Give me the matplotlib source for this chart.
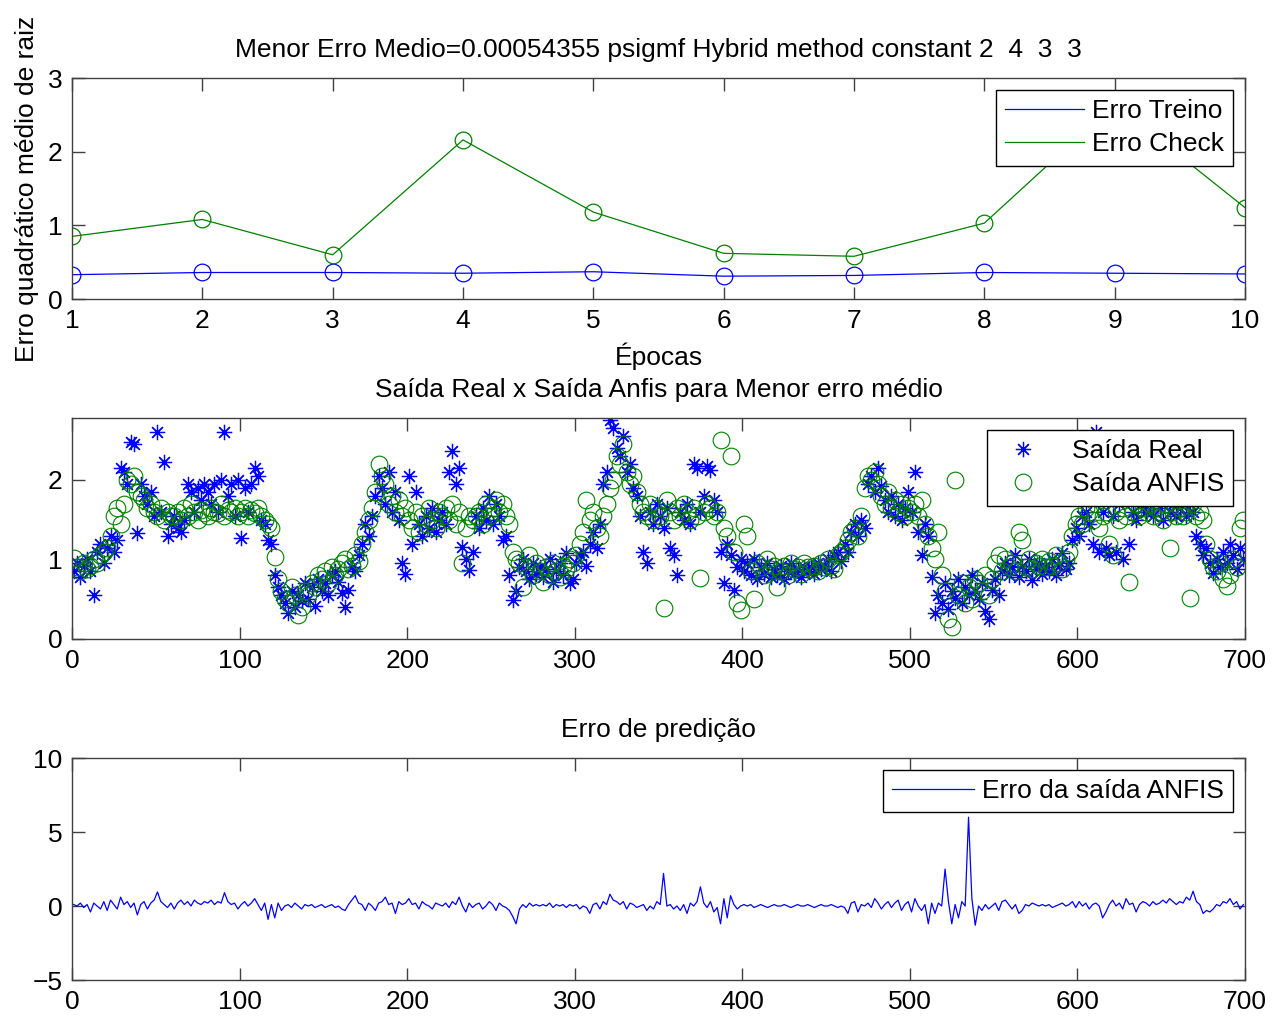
import numpy as np
import matplotlib.pyplot as plt

plt.rcParams['font.family'] = ['Liberation Sans', 'DejaVu Sans']
plt.rcParams['font.size'] = 19

# --- top plot: erro por epoca ---
epocas = [1, 2, 3, 4, 5, 6, 7, 8, 9, 10]
erro_treino = [0.33, 0.36, 0.36, 0.35, 0.37, 0.31, 0.32, 0.36, 0.35, 0.34]
erro_check = [0.85, 1.08, 0.60, 2.16, 1.18, 0.62, 0.58, 1.03, 2.65, 1.24]

# --- middle plot: saida real x anfis (every 2nd sample, x = 1,3,...,699) ---
saida_real = [
    0.85, 0.95, 0.78, 0.92, 1.00, 0.85, 0.55, 1.10, 1.20, 0.95,
    1.15, 1.30, 1.10, 1.25, 2.15, 2.10, 1.95, 2.48, 2.45, 1.33,
    1.95, 1.80, 1.70, 1.85, 1.55, 2.60, 1.60, 2.23, 1.30, 1.45,
    1.55, 1.40, 1.35, 1.50, 1.95, 1.85, 1.60, 1.90, 1.75, 1.95,
    1.85, 1.70, 1.95, 1.60, 2.00, 2.60, 1.80, 1.95, 1.55, 2.00,
    1.27, 1.90, 1.60, 1.95, 2.15, 2.05, 1.50, 1.45, 1.25, 1.20,
    0.80, 0.65, 0.55, 0.45, 0.33, 0.60, 0.40, 0.55, 0.48, 0.70,
    0.50, 0.65, 0.42, 0.75, 0.60, 0.70, 0.55, 0.80, 0.85, 0.72,
    0.58, 0.40, 0.62, 0.90, 0.85, 1.05, 1.20, 1.45, 1.30, 1.55,
    1.80, 2.05, 1.90, 1.70, 2.10, 1.60, 1.85, 1.50, 0.96, 0.82,
    2.05, 1.20, 1.85, 1.45, 1.30, 1.55, 1.40, 1.65, 1.35, 1.50,
    1.60, 1.45, 2.10, 2.36, 1.95, 2.15, 1.16, 1.00, 0.87, 1.10,
    1.55, 1.40, 1.65, 1.50, 1.80, 1.45, 1.70, 1.55, 1.25, 1.30,
    0.81, 0.49, 0.60, 0.90, 1.00, 0.85, 0.75, 0.95, 0.82, 0.90,
    0.78, 0.88, 1.00, 0.72, 0.85, 0.95, 0.80, 1.08, 0.70, 0.75,
    0.95, 1.05, 1.10, 0.92, 1.20, 1.35, 1.15, 1.45, 1.95, 2.10,
    2.76, 2.65, 2.40, 2.30, 2.55, 2.10, 2.20, 1.90, 1.80, 1.55,
    1.10, 0.95, 1.60, 1.45, 1.70, 1.55, 1.40, 1.65, 1.15, 1.05,
    0.80, 1.60, 1.50, 1.70, 1.45, 2.20, 2.15, 1.60, 1.80, 2.18,
    2.13, 1.75, 1.60, 1.10, 0.70, 1.20, 1.05, 0.62, 0.90, 1.00,
    0.85, 0.95, 0.80, 1.00, 0.75, 0.90, 0.82, 0.95, 0.78, 0.88,
    0.80, 0.92, 0.76, 0.85, 0.95, 0.82, 0.88, 0.78, 0.90, 0.85,
    0.90, 0.82, 0.95, 0.88, 0.92, 1.00, 0.85, 1.05, 1.10, 0.98,
    1.20, 1.10, 1.35, 1.45, 1.30, 1.50, 1.40, 1.95, 2.05, 1.85,
    2.15, 1.92, 1.75, 1.60, 1.80, 1.55, 1.70, 1.50, 1.65, 1.85,
    1.60, 2.10, 1.35, 1.06, 1.45, 1.30, 0.78, 0.33, 0.55, 0.45,
    0.70, 0.38, 0.60, 0.52, 0.75, 0.45, 0.65, 0.55, 0.80, 0.60,
    0.50, 0.70, 0.35, 0.25, 0.62, 0.75, 0.55, 0.85, 0.95, 0.80,
    0.90, 1.05, 0.78, 0.92, 0.85, 1.00, 0.74, 0.88, 0.95, 0.82,
    0.90, 0.85, 1.00, 0.80, 0.92, 1.08, 0.88, 0.96, 1.25, 1.40,
    1.30, 1.55, 1.60, 1.45, 1.20, 2.60, 1.10, 1.60, 1.15, 1.05,
    1.55, 1.10, 1.70, 1.00, 1.85, 1.20, 1.60, 1.50, 1.75, 1.65,
    1.60, 1.70, 1.55, 1.80, 1.65, 1.50, 1.75, 1.60, 1.70, 1.55,
    1.65, 1.75, 1.55, 1.70, 1.60, 1.30, 1.20, 1.05, 1.15, 0.95,
    0.83, 1.00, 0.90, 1.10, 0.95, 1.20, 1.05, 0.88, 1.15, 1.00,
]
saida_anfis = [
    1.02, 0.90, 0.85, 0.95, 0.88, 0.92, 1.00, 0.95, 1.05, 1.10,
    1.15, 1.30, 1.55, 1.65, 1.45, 1.70, 2.00, 1.95, 2.05, 1.85,
    1.80, 1.75, 1.65, 1.70, 1.60, 1.55, 1.65, 1.50, 1.60, 1.55,
    1.55, 1.60, 1.50, 1.65, 1.55, 1.70, 1.60, 1.50, 1.62, 1.58,
    1.55, 1.65, 1.60, 1.58, 1.70, 1.55, 1.62, 1.60, 1.65, 1.55,
    1.60, 1.65, 1.55, 1.62, 1.58, 1.65, 1.55, 1.50, 1.45, 1.40,
    1.03, 0.75, 0.60, 0.50, 0.45, 0.65, 0.55, 0.30, 0.40, 0.60,
    0.55, 0.70, 0.65, 0.80, 0.75, 0.85, 0.70, 0.90, 0.80, 0.88,
    0.95, 1.00, 0.88, 0.92, 1.05, 0.98, 1.20, 1.35, 1.50, 1.65,
    1.85, 2.20, 2.05, 1.95, 1.70, 1.80, 1.60, 1.75, 1.55, 1.65,
    1.50, 1.40, 1.60, 1.35, 1.55, 1.45, 1.65, 1.50, 1.40, 1.60,
    1.55, 1.65, 1.50, 1.70, 1.45, 1.60, 0.95, 1.40, 1.55, 1.50,
    1.55, 1.60, 1.45, 1.70, 1.55, 1.65, 1.75, 1.60, 1.70, 1.55,
    1.45, 1.10, 1.00, 0.95, 0.65, 0.90, 1.05, 0.80, 0.95, 0.85,
    0.72, 0.90, 0.80, 0.95, 0.85, 0.78, 0.92, 0.88, 1.00, 0.95,
    1.05, 1.20, 1.35, 1.75, 1.50, 1.60, 1.40, 1.30, 1.55, 1.70,
    1.90, 2.00, 2.30, 2.20, 2.45, 2.10, 1.95, 2.05, 1.85, 1.70,
    1.60, 1.55, 1.70, 1.50, 1.65, 1.55, 0.39, 1.75, 1.60, 1.50,
    1.65, 1.55, 1.70, 1.60, 1.50, 1.65, 1.55, 0.77, 1.60, 1.70,
    1.65, 1.55, 1.60, 2.50, 1.40, 1.30, 2.30, 1.10, 0.45, 0.36,
    1.45, 1.30, 0.85, 0.50, 0.95, 0.90, 0.80, 1.00, 0.88, 0.92,
    0.65, 0.85, 0.92, 0.80, 0.95, 0.88, 0.90, 0.82, 0.95, 0.90,
    0.88, 0.92, 0.85, 0.95, 0.90, 1.00, 0.92, 0.88, 1.05, 1.10,
    1.15, 1.25, 1.35, 1.40, 1.30, 1.55, 1.90, 2.05, 2.00, 2.10,
    1.95, 1.80, 1.70, 1.85, 1.65, 1.75, 1.60, 1.70, 1.55, 1.65,
    1.60, 1.70, 1.55, 1.75, 1.45, 1.30, 1.15, 1.00, 1.35, 0.80,
    0.60, 0.25, 0.15, 2.00, 0.55, 0.70, 0.45, 0.65, 0.50, 0.75,
    0.70, 0.60, 0.80, 0.55, 0.75, 0.95, 1.05, 0.85, 1.00, 0.90,
    0.95, 0.85, 1.35, 1.25, 0.90, 1.00, 0.88, 0.95, 0.92, 1.00,
    0.90, 0.98, 0.92, 1.05, 0.95, 0.88, 1.00, 1.10, 1.30, 1.45,
    1.55, 1.45, 1.65, 1.60, 1.50, 1.70, 1.40, 1.55, 1.60, 1.20,
    1.05, 1.60, 1.50, 1.65, 1.55, 0.72, 1.60, 1.70, 1.55, 1.65,
    1.60, 1.70, 1.55, 1.65, 1.60, 1.50, 1.70, 1.14, 1.60, 1.55,
    1.65, 1.55, 1.60, 0.52, 1.70, 1.55, 1.60, 1.50, 1.20, 1.00,
    0.90, 0.85, 0.95, 0.75, 0.66, 0.80, 1.00, 0.90, 1.40, 1.50,
]

# --- bottom plot: erro de predicao ---
erro_pred = [
    0.1, 0.0, 0.2, -0.1, 0.1, -0.4, 0.2, 0.0, -0.2, 0.3,
    -0.3, 0.4, 0.1, -0.2, 0.6, 0.1, 0.3, -0.1, 0.2, -0.6,
    0.1, 0.3, -0.2, 0.2, 0.4, 0.95, 0.3, 0.1, -0.1, 0.2,
    -0.2, 0.2, 0.4, 0.1, 0.3, 0.0, 0.4, 0.2, 0.1, 0.3,
    0.2, 0.4, 0.1, 0.3, 0.2, 0.9, 0.3, 0.1, 0.2, -0.2,
    0.1, 0.3, 0.0, 0.2, 0.5, 0.1, -0.3, 0.2, -0.9, 0.1,
    -0.8, 0.2, -0.3, 0.0, 0.1, -0.1, 0.2, 0.0, -0.2, 0.1,
    0.0, 0.1, -0.1, 0.0, 0.1, -0.1, 0.0, 0.1, -0.1, 0.0,
    -0.2, -0.3, 0.1, 0.4, 0.7, 0.2, 0.1, -0.3, 0.2, 0.0,
    -0.3, 0.2, 0.3, 0.6, 0.1, 0.2, -0.5, 0.3, 0.1, 0.2,
    0.5, 0.1, 0.2, -0.2, 0.3, 0.1, 0.0, -0.2, 0.2, 0.1,
    0.0, 0.2, -0.1, 0.3, 0.1, 0.6, 0.0, -0.4, 0.2, -0.1,
    0.1, 0.2, -0.2, 0.0, 0.3, 0.1, -0.3, 0.2, 0.0, -0.1,
    -0.3, -0.7, -1.2, -0.2, 0.1, -0.1, 0.2, 0.0, 0.1, 0.0,
    0.1, 0.0, 0.2, -0.1, 0.1, 0.0, 0.1, -0.1, 0.1, 0.0,
    0.1, -0.2, 0.0, -0.1, -0.5, 0.1, 0.2, -0.2, 0.3, 0.1,
    0.8, 0.4, 0.3, 0.1, 0.3, -0.2, 0.2, 0.1, -0.1, 0.0,
    0.1, -0.3, 0.0, -0.2, 0.3, 0.1, 2.2, 0.0, 0.1, -0.2,
    0.0, -0.3, 0.1, -0.5, 0.2, 0.0, 0.3, 1.3, 0.2, -0.1,
    0.3, -0.4, -0.1, -1.2, 0.5, -0.8, 0.7, 0.1, -0.2, 0.0,
    0.1, 0.0, 0.1, -0.1, 0.0, 0.1, 0.0, -0.1, 0.0, 0.1,
    0.0, 0.0, 0.1, 0.0, -0.1, 0.0, 0.1, 0.0, 0.0, 0.1,
    0.0, -0.1, 0.0, 0.1, 0.0, 0.0, 0.1, 0.0, -0.1, 0.0,
    -0.1, -0.5, 0.2, 0.3, -0.4, 0.1, 0.0, 0.2, -0.1, 0.5,
    0.2, -0.2, 0.1, 0.3, -0.1, 0.2, 0.4, -0.3, 0.1, 0.3,
    -0.4, 0.5, 0.0, -0.3, 0.1, -1.2, 0.2, -0.5, 0.2, 0.0,
    2.5, 0.3, -1.2, 0.1, -0.8, 0.3, 0.0, 6.0, 0.5, -1.3,
    0.0, -0.3, 0.1, -0.2, 0.0, 0.2, -0.3, 0.3, 0.4, 0.1,
    -0.2, 0.1, -0.5, -0.3, 0.1, 0.0, 0.2, 0.1, 0.0, 0.1,
    0.0, 0.1, -0.1, 0.0, 0.1, 0.2, 0.0, 0.1, 0.3, -0.1,
    0.3, 0.0, 0.2, -0.2, 0.1, 0.2, 0.0, -0.8, -0.4, 0.1,
    0.4, 0.0, 0.2, -0.2, 0.5, 0.1, 0.2, -0.4, 0.1, 0.3,
    0.2, 0.0, 0.3, 0.1, 0.2, 0.4, 0.2, 0.5, 0.3, 0.1,
    0.3, 0.2, 0.6, 0.4, 1.0, 0.3, 0.1, -0.5, -0.3, -0.4,
    -0.2, 0.1, 0.0, 0.3, 0.2, 0.5, 0.1, 0.3, -0.2, 0.1,
]

amostras = np.arange(1, 700, 2)

azul = '#0000ff'
verde = '#008000'
fs = 19


def estilo(ax):
    # matlab-like box with inward ticks on every side
    for s in ax.spines.values():
        s.set_color('#404040')
        s.set_linewidth(1.0)
    ax.tick_params(direction='in', length=9, width=1, top=True, right=True,
                   colors='#404040', labelcolor='black', labelsize=fs, pad=7)


def legenda(ax, hl, htp):
    leg = ax.legend(loc='upper right', fontsize=fs, frameon=True, fancybox=False,
                    edgecolor='black', framealpha=1, handlelength=hl,
                    borderaxespad=0.45, borderpad=0.35, labelspacing=0.35,
                    handletextpad=htp)
    leg.get_frame().set_linewidth(1.0)


fig = plt.figure(figsize=(12.72, 10.16), dpi=100)

ax1 = fig.add_axes([0.0566, 0.7057, 0.9222, 0.2175])
ax1.plot(epocas, erro_treino, color=azul, lw=0.9, label='Erro Treino')
ax1.plot(epocas, erro_check, color=verde, lw=0.9, label='Erro Check')
ax1.plot(epocas, erro_treino, 'o', color=azul, mfc='none', ms=12, mew=0.9)
ax1.plot(epocas, erro_check, 'o', color=verde, mfc='none', ms=12, mew=0.9)
ax1.set_xlim(1, 10)
ax1.set_ylim(0, 3)
ax1.set_xticks(range(1, 11))
ax1.set_yticks([0, 1, 2, 3])
estilo(ax1)
ax1.set_title('Menor Erro Medio=0.00054355 psigmf Hybrid method constant 2  4  3  3',
              fontsize=fs, pad=15)
ax1.set_xlabel('Épocas', fontsize=fs, labelpad=7)
ax1.set_ylabel('Erro quadrático médio de raiz', fontsize=fs, labelpad=6)
legenda(ax1, 3.0, 0.3)

ax2 = fig.add_axes([0.0566, 0.3711, 0.9222, 0.2175])
ax2.plot(amostras, saida_real, ls='none', marker=(8, 2, 0), color=azul,
         ms=11, mew=0.9, label='Saída Real')
ax2.plot(amostras, saida_anfis, ls='none', marker='o', color=verde, mfc='none',
         ms=12, mew=0.8, label='Saída ANFIS')
ax2.set_xlim(0, 700)
ax2.set_ylim(0, 2.78)
ax2.set_xticks(range(0, 701, 100))
ax2.set_yticks([0, 1, 2])
estilo(ax2)
ax2.set_title('Saída Real x Saída Anfis para Menor erro médio', fontsize=fs, pad=15)
legenda(ax2, 2.0, 0.85)

ax3 = fig.add_axes([0.0566, 0.0354, 0.9222, 0.2185])
ax3.plot(amostras, erro_pred, color=azul, lw=0.9, label='Erro da saída ANFIS')
ax3.set_xlim(0, 700)
ax3.set_ylim(-5, 10)
ax3.set_xticks(range(0, 701, 100))
ax3.set_yticks([-5, 0, 5, 10])
estilo(ax3)
ax3.set_title('Erro de predição', fontsize=fs, pad=15)
legenda(ax3, 3.1, 0.3)

fig.savefig('out.png', dpi=100)
